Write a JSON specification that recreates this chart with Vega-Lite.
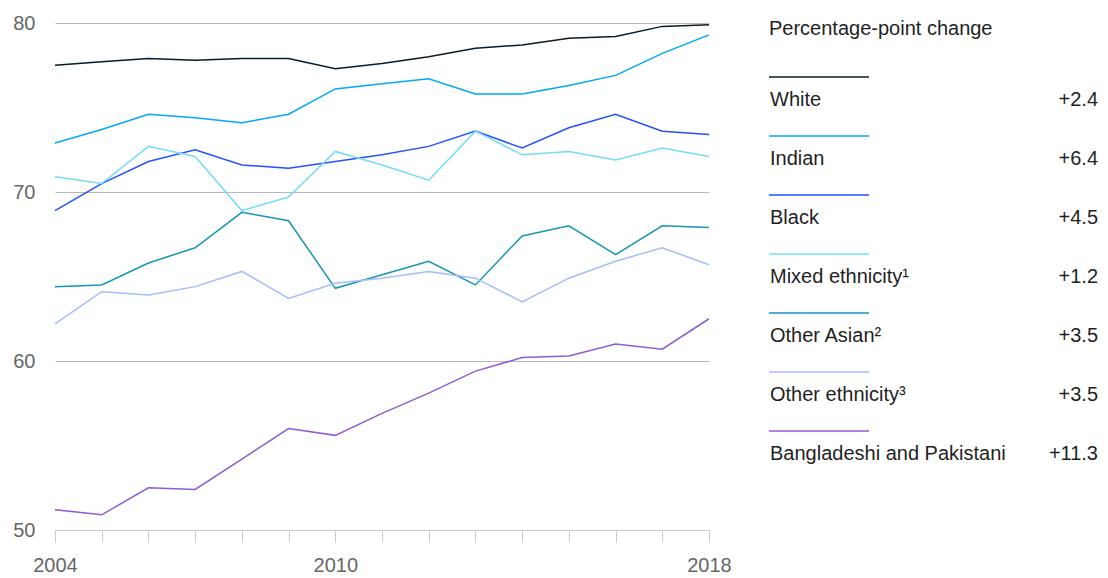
{
  "$schema": "https://vega.github.io/schema/vega-lite/v6.json",
  "autosize": {"type": "pad"},
  "padding": {"left": 12, "top": 13, "right": 11, "bottom": 6},
  "background": "white",
  "bounds": "flush",
  "spacing": 60,
  "config": {
    "view": {"stroke": null},
    "font": "Liberation Sans",
    "text": {"font": "Liberation Sans"}
  },
  "datasets": {
    "series": [
      {"year": 2004, "group": "White", "value": 77.5},
      {"year": 2005, "group": "White", "value": 77.7},
      {"year": 2006, "group": "White", "value": 77.9},
      {"year": 2007, "group": "White", "value": 77.8},
      {"year": 2008, "group": "White", "value": 77.9},
      {"year": 2009, "group": "White", "value": 77.9},
      {"year": 2010, "group": "White", "value": 77.3},
      {"year": 2011, "group": "White", "value": 77.6},
      {"year": 2012, "group": "White", "value": 78.0},
      {"year": 2013, "group": "White", "value": 78.5},
      {"year": 2014, "group": "White", "value": 78.7},
      {"year": 2015, "group": "White", "value": 79.1},
      {"year": 2016, "group": "White", "value": 79.2},
      {"year": 2017, "group": "White", "value": 79.8},
      {"year": 2018, "group": "White", "value": 79.9},
      {"year": 2004, "group": "Indian", "value": 72.9},
      {"year": 2005, "group": "Indian", "value": 73.7},
      {"year": 2006, "group": "Indian", "value": 74.6},
      {"year": 2007, "group": "Indian", "value": 74.4},
      {"year": 2008, "group": "Indian", "value": 74.1},
      {"year": 2009, "group": "Indian", "value": 74.6},
      {"year": 2010, "group": "Indian", "value": 76.1},
      {"year": 2011, "group": "Indian", "value": 76.4},
      {"year": 2012, "group": "Indian", "value": 76.7},
      {"year": 2013, "group": "Indian", "value": 75.8},
      {"year": 2014, "group": "Indian", "value": 75.8},
      {"year": 2015, "group": "Indian", "value": 76.3},
      {"year": 2016, "group": "Indian", "value": 76.9},
      {"year": 2017, "group": "Indian", "value": 78.2},
      {"year": 2018, "group": "Indian", "value": 79.3},
      {"year": 2004, "group": "Black", "value": 68.9},
      {"year": 2005, "group": "Black", "value": 70.5},
      {"year": 2006, "group": "Black", "value": 71.8},
      {"year": 2007, "group": "Black", "value": 72.5},
      {"year": 2008, "group": "Black", "value": 71.6},
      {"year": 2009, "group": "Black", "value": 71.4},
      {"year": 2010, "group": "Black", "value": 71.8},
      {"year": 2011, "group": "Black", "value": 72.2},
      {"year": 2012, "group": "Black", "value": 72.7},
      {"year": 2013, "group": "Black", "value": 73.6},
      {"year": 2014, "group": "Black", "value": 72.6},
      {"year": 2015, "group": "Black", "value": 73.8},
      {"year": 2016, "group": "Black", "value": 74.6},
      {"year": 2017, "group": "Black", "value": 73.6},
      {"year": 2018, "group": "Black", "value": 73.4},
      {"year": 2004, "group": "Mixed ethnicity¹", "value": 70.9},
      {"year": 2005, "group": "Mixed ethnicity¹", "value": 70.5},
      {"year": 2006, "group": "Mixed ethnicity¹", "value": 72.7},
      {"year": 2007, "group": "Mixed ethnicity¹", "value": 72.1},
      {"year": 2008, "group": "Mixed ethnicity¹", "value": 68.9},
      {"year": 2009, "group": "Mixed ethnicity¹", "value": 69.7},
      {"year": 2010, "group": "Mixed ethnicity¹", "value": 72.4},
      {"year": 2011, "group": "Mixed ethnicity¹", "value": 71.6},
      {"year": 2012, "group": "Mixed ethnicity¹", "value": 70.7},
      {"year": 2013, "group": "Mixed ethnicity¹", "value": 73.6},
      {"year": 2014, "group": "Mixed ethnicity¹", "value": 72.2},
      {"year": 2015, "group": "Mixed ethnicity¹", "value": 72.4},
      {"year": 2016, "group": "Mixed ethnicity¹", "value": 71.9},
      {"year": 2017, "group": "Mixed ethnicity¹", "value": 72.6},
      {"year": 2018, "group": "Mixed ethnicity¹", "value": 72.1},
      {"year": 2004, "group": "Other Asian²", "value": 64.4},
      {"year": 2005, "group": "Other Asian²", "value": 64.5},
      {"year": 2006, "group": "Other Asian²", "value": 65.8},
      {"year": 2007, "group": "Other Asian²", "value": 66.7},
      {"year": 2008, "group": "Other Asian²", "value": 68.8},
      {"year": 2009, "group": "Other Asian²", "value": 68.3},
      {"year": 2010, "group": "Other Asian²", "value": 64.3},
      {"year": 2011, "group": "Other Asian²", "value": 65.1},
      {"year": 2012, "group": "Other Asian²", "value": 65.9},
      {"year": 2013, "group": "Other Asian²", "value": 64.5},
      {"year": 2014, "group": "Other Asian²", "value": 67.4},
      {"year": 2015, "group": "Other Asian²", "value": 68.0},
      {"year": 2016, "group": "Other Asian²", "value": 66.3},
      {"year": 2017, "group": "Other Asian²", "value": 68.0},
      {"year": 2018, "group": "Other Asian²", "value": 67.9},
      {"year": 2004, "group": "Other ethnicity³", "value": 62.2},
      {"year": 2005, "group": "Other ethnicity³", "value": 64.1},
      {"year": 2006, "group": "Other ethnicity³", "value": 63.9},
      {"year": 2007, "group": "Other ethnicity³", "value": 64.4},
      {"year": 2008, "group": "Other ethnicity³", "value": 65.3},
      {"year": 2009, "group": "Other ethnicity³", "value": 63.7},
      {"year": 2010, "group": "Other ethnicity³", "value": 64.6},
      {"year": 2011, "group": "Other ethnicity³", "value": 64.9},
      {"year": 2012, "group": "Other ethnicity³", "value": 65.3},
      {"year": 2013, "group": "Other ethnicity³", "value": 64.9},
      {"year": 2014, "group": "Other ethnicity³", "value": 63.5},
      {"year": 2015, "group": "Other ethnicity³", "value": 64.9},
      {"year": 2016, "group": "Other ethnicity³", "value": 65.9},
      {"year": 2017, "group": "Other ethnicity³", "value": 66.7},
      {"year": 2018, "group": "Other ethnicity³", "value": 65.7},
      {"year": 2004, "group": "Bangladeshi and Pakistani", "value": 51.2},
      {"year": 2005, "group": "Bangladeshi and Pakistani", "value": 50.9},
      {"year": 2006, "group": "Bangladeshi and Pakistani", "value": 52.5},
      {"year": 2007, "group": "Bangladeshi and Pakistani", "value": 52.4},
      {"year": 2008, "group": "Bangladeshi and Pakistani", "value": 54.2},
      {"year": 2009, "group": "Bangladeshi and Pakistani", "value": 56.0},
      {"year": 2010, "group": "Bangladeshi and Pakistani", "value": 55.6},
      {"year": 2011, "group": "Bangladeshi and Pakistani", "value": 56.9},
      {"year": 2012, "group": "Bangladeshi and Pakistani", "value": 58.1},
      {"year": 2013, "group": "Bangladeshi and Pakistani", "value": 59.4},
      {"year": 2014, "group": "Bangladeshi and Pakistani", "value": 60.2},
      {"year": 2015, "group": "Bangladeshi and Pakistani", "value": 60.3},
      {"year": 2016, "group": "Bangladeshi and Pakistani", "value": 61.0},
      {"year": 2017, "group": "Bangladeshi and Pakistani", "value": 60.7},
      {"year": 2018, "group": "Bangladeshi and Pakistani", "value": 62.5}
    ],
    "legend": [
      {"label": "White", "change": 2.4},
      {"label": "Indian", "change": 6.4},
      {"label": "Black", "change": 4.5},
      {"label": "Mixed ethnicity¹", "change": 1.2},
      {"label": "Other Asian²", "change": 3.5},
      {"label": "Other ethnicity³", "change": 3.5},
      {"label": "Bangladeshi and Pakistani", "change": 11.3}
    ]
  },
  "hconcat": [
    {
      "width": 654,
      "height": 507,
      "data": {"name": "series"},
      "mark": {"type": "line", "strokeWidth": 1.5},
      "encoding": {
        "x": {
          "field": "year",
          "type": "quantitative",
          "scale": {"domain": [2004, 2018], "nice": false, "zero": false},
          "axis": {
            "values": [2004, 2005, 2006, 2007, 2008, 2009, 2010, 2011, 2012, 2013, 2014, 2015, 2016, 2017, 2018],
            "format": "d",
            "labelExpr": "datum.value == 2004 || datum.value == 2010 || datum.value == 2018 ? datum.label : ''",
            "title": null,
            "grid": false,
            "tickSize": 12,
            "tickColor": "#cccccc",
            "domainColor": "#cccccc",
            "labelFontSize": 20,
            "labelColor": "#666666",
            "labelPadding": 13,
            "labelFlush": false,
            "labelOverlap": false,
            "labelFont": "Liberation Sans"
          }
        },
        "y": {
          "field": "value",
          "type": "quantitative",
          "scale": {"domain": [50, 80], "nice": false, "zero": false},
          "axis": {
            "values": [50, 60, 70, 80],
            "title": null,
            "domain": false,
            "ticks": false,
            "grid": true,
            "gridColor": {"condition": {"test": "datum.value == 50", "value": "#cccccc"}, "value": "#b8b8b8"},
            "labelFontSize": 20,
            "labelColor": "#666666",
            "labelPadding": 20,
            "labelFont": "Liberation Sans"
          }
        },
        "color": {
          "field": "group",
          "type": "nominal",
          "scale": {
            "domain": ["White", "Indian", "Black", "Mixed ethnicity¹", "Other Asian²", "Other ethnicity³", "Bangladeshi and Pakistani"],
            "range": ["#051c2c", "#00a9f4", "#2251ff", "#74dcf7", "#1496b4", "#a3bdff", "#8f5bd6"]
          },
          "legend": null
        }
      }
    },
    {
      "width": 329,
      "height": 447,
      "data": {"name": "legend"},
      "encoding": {
        "y": {
          "field": "label",
          "type": "nominal",
          "scale": {
            "type": "point",
            "domain": ["Percentage-point change", "White", "Indian", "Black", "Mixed ethnicity¹", "Other Asian²", "Other ethnicity³", "Bangladeshi and Pakistani"],
            "padding": 0.2881
          },
          "axis": null
        }
      },
      "layer": [
        {
          "mark": {"type": "rule", "strokeWidth": 1.5, "yOffset": -22},
          "encoding": {
            "x": {"datum": 0, "type": "quantitative", "scale": {"domain": [0, 329], "nice": false, "zero": false}, "axis": null},
            "x2": {"datum": 100},
            "color": {
              "field": "label",
              "type": "nominal",
              "scale": {
                "domain": ["White", "Indian", "Black", "Mixed ethnicity¹", "Other Asian²", "Other ethnicity³", "Bangladeshi and Pakistani"],
                "range": ["#051c2c", "#00a9f4", "#2251ff", "#74dcf7", "#1496b4", "#a3bdff", "#8f5bd6"]
              },
              "legend": null
            }
          }
        },
        {
          "mark": {"type": "text", "align": "left", "baseline": "middle", "fontSize": 20, "color": "#1f1f1f", "dy": 1, "font": "Liberation Sans"},
          "encoding": {
            "x": {"datum": 1, "type": "quantitative"},
            "text": {"field": "label"}
          }
        },
        {
          "mark": {"type": "text", "align": "right", "baseline": "middle", "fontSize": 20, "color": "#1f1f1f", "dy": 1, "font": "Liberation Sans"},
          "encoding": {
            "x": {"datum": 329, "type": "quantitative"},
            "text": {"field": "change", "format": "+.1f"}
          }
        },
        {
          "data": {"values": [{"label": "Percentage-point change"}]},
          "mark": {"type": "text", "align": "left", "baseline": "middle", "fontSize": 20, "color": "#1f1f1f", "dy": -11, "font": "Liberation Sans"},
          "encoding": {
            "x": {"datum": 0, "type": "quantitative"},
            "text": {"field": "label"}
          }
        }
      ]
    }
  ]
}
